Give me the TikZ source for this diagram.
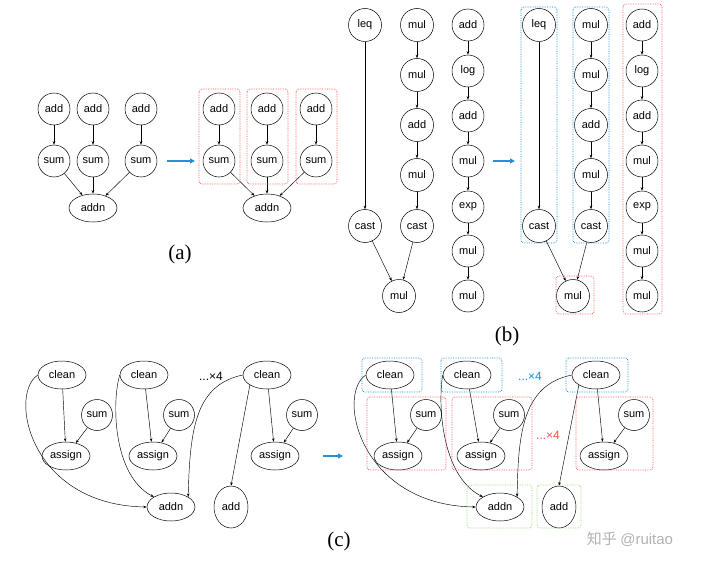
\documentclass[tikz,border=0pt]{standalone}
\usepackage{fontspec}
\setmainfont{Liberation Serif}
\newfontfamily\nsans{Liberation Sans}
\newfontfamily\cjk{Noto Sans CJK SC}
\usetikzlibrary{arrows.meta,shapes.geometric}
\begin{document}
\begin{tikzpicture}[x=1pt,y=-1pt,
  c/.style={circle,draw,line width=0.5pt,minimum size=33pt,inner sep=0pt,font=\nsans\fontsize{11}{13}\selectfont},
  e/.style={ellipse,draw,line width=0.5pt,minimum width=48pt,minimum height=28pt,inner sep=0pt,font=\nsans\fontsize{11}{13}\selectfont},
  et/.style={ellipse,draw,line width=0.5pt,minimum width=34pt,minimum height=42pt,inner sep=0pt,font=\nsans\fontsize{11}{13}\selectfont},
  ar/.style={-{Stealth[length=3.5pt,width=2.5pt]},line width=0.45pt},
  big/.style={-{Triangle[length=5pt,width=5pt]},line width=2pt,color=blue!40!cyan!70!gray},
  rb/.style={draw=red!70,densely dotted,line width=0.7pt,rounded corners=3pt},
  bb/.style={draw=cyan!70!blue,densely dotted,line width=0.7pt,rounded corners=3pt},
  gb/.style={draw=green!50!olive!60,densely dotted,line width=0.7pt,rounded corners=3pt},
  lab/.style={font=\fontsize{21}{24}\selectfont}]
\useasboundingbox (0,0) rectangle (704,567);
% ---------- (a)
\foreach \n/\x in {a1/54,a2/93,a3/141,b1/219,b2/267,b3/316}{
  \node[c,minimum size=32pt] (\n add) at (\x,109) {add};
  \node[c,minimum size=32pt] (\n sum) at (\x,161) {sum};
  \draw[ar] (\n add) -- (\n sum);}
\node[e] (aaddn) at (93,208) {addn};
\node[e] (baddn) at (267,208) {addn};
\foreach \n in {a1,a2,a3}{\draw[ar] (\n sum) -- (aaddn);}
\foreach \n in {b1,b2,b3}{\draw[ar] (\n sum) -- (baddn);}
\foreach \x in {219,267,316}{\draw[rb] (\x-20,89) rectangle (\x+21,184);}
\coordinate (pa1) at (167,161); \coordinate (pa2) at (195,161);
\draw[big] (pa1) -- (pa2);
\node[lab] (la) at (180,254) {(a)};
% ---------- (b)
\def\bcol#1#2{%
  \node[c] (#1leq) at (#2,25) {leq};
  \node[c] (#1cast) at (#2,226) {cast};
  \draw[ar] (#1leq) -- (#1cast);
  \foreach \i/\y/\t in {1/25/mul,2/75/mul,3/125/add,4/175/mul,5/226/cast}{\node[c] (#1m\i) at (#2+52,\y) {\t};}
  \foreach \i/\j in {1/2,2/3,3/4,4/5}{\draw[ar] (#1m\i) -- (#1m\j);}
}
\bcol{L}{365}
\bcol{R}{539}
\node[c] (Lmul) at (399,296) {mul};
\node[c] (Rmul) at (573,296) {mul};
\draw[ar] (Lcast) -- (Lmul); \draw[ar] (Lm5) -- (Lmul);
\draw[ar] (Rcast) -- (Rmul); \draw[ar] (Rm5) -- (Rmul);
\foreach \p/\x in {L/468,R/642}{
 \foreach \i/\y/\t in {1/25/add,2/71/log,3/116/add,4/161/mul,5/207/exp,6/251/mul,7/296/mul}{\node[c,minimum size=32pt] (\p k\i) at (\x,\y) {\t};}
 \foreach \i/\j in {1/2,2/3,3/4,4/5,5/6,6/7}{\draw[ar] (\p k\i) -- (\p k\j);}}
\draw[bb] (521,7) rectangle (557,243);
\draw[bb] (573,7) rectangle (609,243);
\draw[rb] (556,276) rectangle (594,314);
\draw[rb] (623,4) rectangle (662,314);
\coordinate (pb1) at (493,161); \coordinate (pb2) at (515,161);
\draw[big] (pb1) -- (pb2);
\node[lab] (lb) at (507,336) {(b)};
% ---------- (c)
\def\cgroup#1#2#3#4{% prefix, clean x, sum x, assign x
  \node[e] (#1c) at (#2,375) {clean};
  \node[c,minimum size=31pt] (#1s) at (#3,415) {sum};
  \node[e] (#1a) at (#4,456) {assign};
  \draw[ar] (#1c) -- (#1a);
  \draw[ar] (#1s) -- (#1a);
}
\cgroup{p}{62}{97}{66}
\cgroup{q}{144}{179}{153}
\cgroup{r}{267}{302}{275}
\node[e] (paddn) at (171,507) {addn};
\node[et] (padd) at (231,507) {add};
\draw[ar] (pc.west) .. controls (8,395) and (30,505) .. (paddn.west);
\draw[ar] (qc.west) .. controls (112,400) and (112,475) .. (paddn.north west);
\draw[ar] (rc.west) .. controls (195,385) and (190,430) .. (paddn.north east);
\draw[ar] (rc.south west) -- (padd.north);
\node[font=\nsans\fontsize{12}{14}\selectfont] (pdots) at (211,376) {...×4};
\coordinate (pc1) at (323,456); \coordinate (pc2) at (343,456);
\draw[big] (pc1) -- (pc2);
\cgroup{u}{390}{426}{398}
\cgroup{v}{467}{509}{481}
\cgroup{w}{596}{634}{604}
\node[e] (uaddn) at (500,507) {addn};
\node[et] (uadd) at (559,507) {add};
\draw[ar] (uc.west) .. controls (336,395) and (360,505) .. (uaddn.west);
\draw[ar] (vc.west) .. controls (438,400) and (440,475) .. (uaddn.north west);
\draw[ar] (wc.west) .. controls (524,385) and (518,430) .. (uaddn.north east);
\draw[ar] (wc.south west) -- (uadd.north);
\node[font=\nsans\fontsize{12}{14}\selectfont,text=cyan!80!blue] (udots) at (530,376) {...×4};
\node[font=\nsans\fontsize{12}{14}\selectfont,text=red!70] (rdots) at (548,435) {...×4};
\draw[bb] (362,358) rectangle (422,392);
\draw[bb] (441,358) rectangle (502,392);
\draw[bb] (566,358) rectangle (628,392);
\draw[rb] (367,397) rectangle (446,470);
\draw[rb] (452,397) rectangle (532,470);
\draw[rb] (576,397) rectangle (653,470);
\draw[gb] (467,485) rectangle (532,528);
\draw[gb] (537,485) rectangle (581,528);
\node[lab] (lc) at (339,541) {(c)};
\node[text=gray!60,font=\fontsize{15}{17}\selectfont] (wm) at (630,539) {\cjk 知乎 \nsans @ruitao};
\end{tikzpicture}
\end{document}
